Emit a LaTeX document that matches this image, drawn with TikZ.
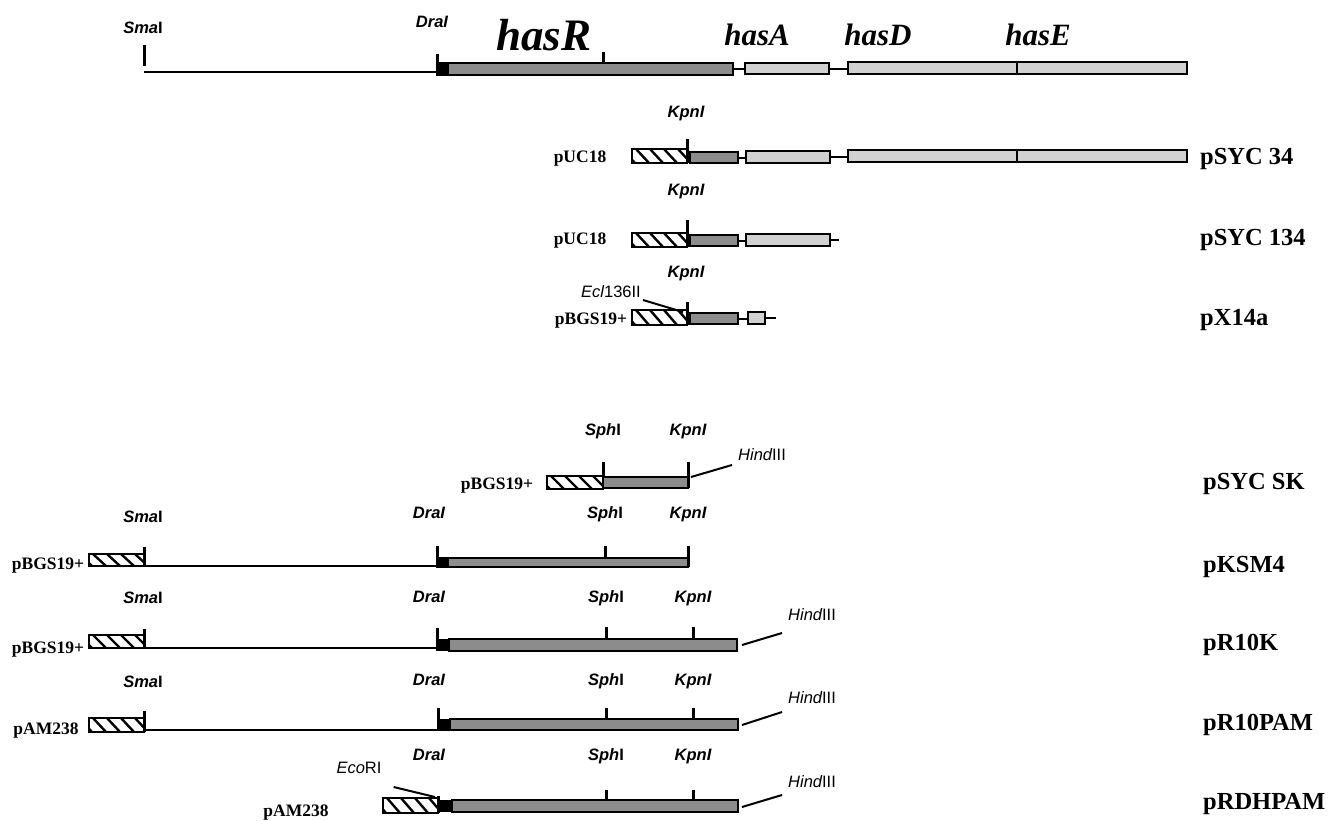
\documentclass[tikz,border=0pt]{standalone}
\usepackage{fontspec}
\setmainfont{Liberation Serif}
\setsansfont{Liberation Sans}
\newcommand\hatchrect[4]{%
  \begin{scope}
    \clip (#1,#2) rectangle (#3,#4);
    \foreach \k in {0,...,5}{\draw[hatchline] ({#1-10+\k*14},#2) -- ++(13,{#4-#2});}
  \end{scope}
  \draw[boxline] (#1,#2) rectangle (#3,#4);}
\begin{document}
\begin{tikzpicture}[x=1pt,y=-1pt,
 enz/.style={font=\fontsize{16.5}{18}\selectfont\sffamily\bfseries, anchor=base, inner sep=0},
 site/.style={font=\fontsize{16.5}{18}\selectfont\sffamily, anchor=base, inner sep=0},
 vec/.style={font=\fontsize{17.5}{19}\selectfont\bfseries, anchor=base, inner sep=0},
 plas/.style={font=\fontsize{24.5}{26}\selectfont\bfseries, anchor=base west, inner sep=0},
 gene/.style={font=\fontsize{31}{33}\selectfont\bfseries\itshape, anchor=base, inner sep=0},
 bigGene/.style={font=\fontsize{45}{47}\selectfont\bfseries\itshape, anchor=base, inner sep=0},
 tick/.style={line width=3},
 dna/.style={line width=2},
 lead/.style={line width=2},
 boxline/.style={draw, line width=2.2},
 darkbox/.style={boxline, fill=black!45},
 lightbox/.style={boxline, fill=black!18},
 hatchline/.style={line width=2.4}]
\useasboundingbox (0,0) rectangle (1331,820);

% ---------------- genome map ----------------
\node[enz] (sma0) at (143,33) {{\itshape Sma}I};
\node[enz] (dra0) at (432,27) {{\itshape DraI}};
\draw[tick] (144,45) -- (144,66);
\draw[dna] (144,71.5) -- (437,71.5);
\fill (436,62) rectangle (449,76);
\draw[tick] (437.5,54) -- (437.5,66);
\draw[darkbox] (448,63) rectangle (733,75);
\draw[tick] (603,52) -- (603,63);
\draw[dna] (733,69) -- (745,69);
\draw[lightbox] (745,63) rectangle (829,74);
\draw[dna] (829,69) -- (848,69);
\draw[lightbox] (848,62) rectangle (1017,74);
\draw[lightbox] (1017,62) rectangle (1187,74);
\draw[line width=2.8] (1017,62) -- (1017,74);
\node[bigGene] (hasR) at (544,50) {hasR};
\node[gene] (hasA) at (757,45) {hasA};
\node[gene] (hasD) at (878,45) {hasD};
\node[gene] (hasE) at (1038,45) {hasE};

% ---------------- pSYC 34 ----------------
\node[enz] (k1) at (686,117) {{\itshape KpnI}};
\node[vec] (v1) at (580,162) {pUC18};
\hatchrect{632}{149}{687}{163}
\draw[tick] (687,139) -- (687,163);
\draw[darkbox] (690,152) rectangle (738,163);
\draw[dna] (738,157.5) -- (746,157.5);
\draw[lightbox] (746,151) rectangle (830,163);
\draw[dna] (830,157) -- (848,157);
\draw[lightbox] (848,150) rectangle (1017,162);
\draw[lightbox] (1017,150) rectangle (1187,162);
\draw[line width=2.8] (1017,150) -- (1017,162);
\node[plas] (p1) at (1200,164) {pSYC 34};

% ---------------- pSYC 134 ----------------
\node[enz] (k2) at (686,195) {{\itshape KpnI}};
\node[vec] (v2) at (580,244) {pUC18};
\hatchrect{632}{233}{687}{247}
\draw[tick] (687,220) -- (687,247);
\draw[darkbox] (690,235) rectangle (738,246);
\draw[dna] (738,240.5) -- (746,240.5);
\draw[lightbox] (746,234) rectangle (830,246);
\draw[dna] (830,240) -- (839,240);
\node[plas] (p2) at (1200,245) {pSYC 134};

% ---------------- pX14a ----------------
\node[enz] (k3) at (686,277) {{\itshape KpnI}};
\node[site] (ecl) at (611,297) {{\itshape Ecl}136II};
\coordinate (e1) at (683,312);
\draw[lead] ([shift={(2,3)}]ecl.base east) -- (e1);
\node[vec] (v3) at (591,324) {pBGS19+};
\hatchrect{632}{310}{687}{325}
\draw[tick] (687,302) -- (687,325);
\draw[darkbox] (690,313) rectangle (738,324);
\draw[dna] (738,318.5) -- (748,318.5);
\draw[lightbox] (748,312) rectangle (765,324);
\draw[dna] (765,318) -- (776,318);
\node[plas] (p3) at (1200,325) {pX14a};

% ---------------- pSYC SK ----------------
\node[enz] (s4) at (603,435) {{\itshape Sph}I};
\node[enz] (k4) at (688,435) {{\itshape KpnI}};
\node[site, anchor=base west] (hd4) at (738,460) {{\itshape Hind}III};
\coordinate (h4) at (691,477);
\draw[lead] (h4) -- ([shift={(-6,5)}]hd4.base west);
\node[vec] (v4) at (497,489) {pBGS19+};
\hatchrect{547}{476}{603}{489}
\draw[darkbox] (603,477) rectangle (688,488);
\draw[tick] (603,462) -- (603,478);
\draw[tick] (688,462) -- (688,488);
\node[plas] (p4) at (1203,489) {pSYC SK};

% ---------------- pKSM4 ----------------
\node[enz] (sm5) at (143,522) {{\itshape Sma}I};
\node[enz] (d5) at (429,518) {{\itshape DraI}};
\node[enz] (s5) at (605,518) {{\itshape Sph}I};
\node[enz] (k5) at (688,518) {{\itshape KpnI}};
\node[vec] (v5) at (48,569) {pBGS19+};
\hatchrect{89}{554}{144}{566}
\draw[tick] (144,547) -- (144,566);
\draw[dna] (144,565.5) -- (437,565.5);
\fill (436,557) rectangle (449,568);
\draw[tick] (437.5,546) -- (437.5,567);
\draw[darkbox] (448,558) rectangle (688,567);
\draw[tick] (605,546) -- (605,558);
\draw[tick] (688,546) -- (688,567);
\node[plas] (p5) at (1203,572) {pKSM4};

% ---------------- pR10K ----------------
\node[enz] (sm6) at (143,603) {{\itshape Sma}I};
\node[enz] (d6) at (429,602) {{\itshape DraI}};
\node[enz] (s6) at (606,602) {{\itshape Sph}I};
\node[enz] (k6) at (693,602) {{\itshape KpnI}};
\node[vec] (v6) at (48,653) {pBGS19+};
\hatchrect{89}{635}{144}{648}
\draw[tick] (144,629) -- (144,648);
\draw[dna] (144,647.5) -- (437,647.5);
\fill (436,639) rectangle (450,651);
\draw[tick] (437.5,628) -- (437.5,648);
\draw[darkbox] (449,639) rectangle (737,651);
\draw[tick] (606,627) -- (606,639);
\draw[tick] (693,627) -- (693,639);
\node[site, anchor=base west] (hd6) at (788,620) {{\itshape Hind}III};
\coordinate (h6) at (742,645);
\draw[lead] (h6) -- ([shift={(-6,13)}]hd6.base west);
\node[plas] (p6) at (1203,650) {pR10K};

% ---------------- pR10PAM ----------------
\node[enz] (sm7) at (143,687) {{\itshape Sma}I};
\node[enz] (d7) at (429,685) {{\itshape DraI}};
\node[enz] (s7) at (606,685) {{\itshape Sph}I};
\node[enz] (k7) at (693,685) {{\itshape KpnI}};
\node[vec] (v7) at (46,734) {pAM238};
\hatchrect{89}{718}{144}{732}
\draw[tick] (144,711) -- (144,732);
\draw[dna] (144,730) -- (438,730);
\fill (437,719) rectangle (451,731);
\draw[tick] (438.5,708) -- (438.5,730);
\draw[darkbox] (450,719) rectangle (738,730);
\draw[tick] (606,708) -- (606,719);
\draw[tick] (693,708) -- (693,719);
\node[site, anchor=base west] (hd7) at (788,703) {{\itshape Hind}III};
\coordinate (h7) at (742,725);
\draw[lead] (h7) -- ([shift={(-6,9)}]hd7.base west);
\node[plas] (p7) at (1203,730) {pR10PAM};

% ---------------- pRDHPAM ----------------
\node[enz] (d8) at (429,760) {{\itshape DraI}};
\node[enz] (s8) at (606,760) {{\itshape Sph}I};
\node[enz] (k8) at (693,760) {{\itshape KpnI}};
\node[site] (eco) at (359,773) {{\itshape Eco}RI};
\coordinate (e8) at (435,797);
\draw[lead] ([shift={(12,14)}]eco.base east) -- (e8);
\node[vec] (v8) at (296,816) {pAM238};
\hatchrect{383}{798}{438}{813}
\fill (437,800) rectangle (453,812);
\draw[tick] (438.5,796) -- (438.5,813);
\draw[darkbox] (452,800) rectangle (738,812);
\draw[tick] (606,790) -- (606,800);
\draw[tick] (693,790) -- (693,800);
\node[site, anchor=base west] (hd8) at (788,787) {{\itshape Hind}III};
\coordinate (h8) at (742,807);
\draw[lead] (h8) -- ([shift={(-6,8)}]hd8.base west);
\node[plas] (p8) at (1203,809) {pRDHPAM};
\end{tikzpicture}
\end{document}
